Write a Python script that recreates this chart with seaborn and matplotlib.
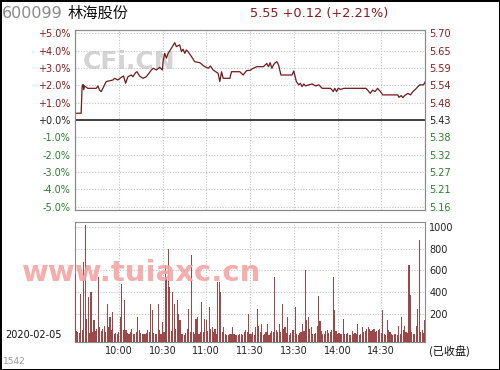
import numpy as np
import pandas as pd
import matplotlib
matplotlib.use("Agg")
import matplotlib.pyplot as plt
import seaborn as sns

# ---------------- data ----------------
stock_code = "600099"
stock_name = "林海股份"
prev_close = 5.43
last_price = 5.55
change = 0.12
change_pct = 2.21
trade_date = "2020-02-05"

# price line: minute index since 9:30 (lunch break removed) and % change
price_minutes = [0, 4.2, 4.9, 5.5, 6, 6.5, 8.8, 14.6, 15.7, 16.8, 18, 19.1, 21.4, 26, 27.1,
                 29.4, 31.7, 33.3, 34.7, 36.3, 38.6, 39.7, 41.6, 42.5, 44.3, 46.6, 48.9,
                 52.4, 53.6, 55.8, 58.1, 59.9, 60.4, 61.5, 62.7, 63.8, 65.4, 68.4, 69.5,
                 71.8, 73, 74.1, 75.3, 76.4, 77.5, 79.9, 82.1, 85.6, 89, 91.3, 92.9, 94.7,
                 98.1, 99.3, 100.5, 101.6, 106.2, 107.3, 113, 115.3, 117.6, 120,
                 122.3, 124.6, 129.2, 131.5, 132.7, 133.8, 135, 136.1, 137.3, 138.4, 139.6,
                 141.2, 148.8, 150, 151.8, 153.4, 154.6, 155.7, 156.9, 158, 160.3, 162.6,
                 164.9, 167.2, 169.5, 175.3, 177.1, 178.1, 179.4, 180.4, 182.2, 184.5,
                 199.5, 201.1, 202.5, 204.1, 205.7, 207.5, 209.4, 211, 221.4, 222.1, 223.7,
                 224.8, 226, 228.3, 230.1, 231.7, 233.4, 235.2, 236.4, 238.7, 239.8, 240]
price_pct = [0.39, 0.39, 1.93, 2.05, 1.75, 1.97, 1.83, 1.83, 1.97, 1.73, 1.64, 1.83, 2.22, 2.31, 2.41,
             2.31, 2.47, 2.54, 2.12, 2.50, 2.60, 2.50, 2.74, 2.79, 2.54, 2.41, 2.50,
             2.89, 2.99, 2.89, 3.04, 2.89, 3.37, 3.85, 3.57, 3.85, 4.05, 4.47, 4.24,
             4.34, 3.95, 4.09, 3.85, 4.05, 3.95, 3.66, 3.37, 3.31, 3.08, 2.99, 3.12, 2.89,
             2.70, 2.22, 2.79, 2.41, 2.41, 2.79, 2.79, 2.60, 2.85, 2.87,
             2.99, 3.08, 3.08, 3.27, 3.08, 3.31, 2.99, 3.18, 3.31, 3.37, 3.18,
             2.60, 2.60, 2.83, 2.22, 2.03, 2.12, 1.93, 2.08, 1.97, 2.03, 2.08,
             1.97, 2.03, 1.83, 1.83, 1.64, 1.83, 1.64, 1.83, 1.77, 1.83,
             1.83, 1.68, 1.54, 1.73, 1.64, 1.83, 1.64, 1.45, 1.45, 1.31, 1.41,
             1.29, 1.41, 1.54, 1.45, 1.64, 1.77, 1.93, 2.03, 2.03, 2.12, 2.21]

# volume per minute (0..240)
volume = [570, 40, 30, 20, 384, 46, 676, 1014, 150, 353, 20, 399, 30, 138, 40, 60, 537, 73, 37, 61,
          90, 30, 291, 73, 165, 46, 215, 15, 20, 10, 30, 168, 477, 46, 322, 46, 20, 10, 30, 61,
          10, 15, 30, 168, 46, 20, 10, 15, 15, 20, 46, 30, 291, 230, 20, 10, 15, 291, 46, 10,
          125, 30, 645, 537, 800, 445, 40, 399, 291, 60, 322, 199, 138, 15, 10, 5, 20, 61, 245, 30,
          738, 30, 10, 153, 168, 15, 30, 307, 30, 153, 138, 40, 261, 61, 76, 30, 61, 10, 491, 491,
          399, 30, 73, 15, 5, 5, 10, 10, 73, 15, 5, 5, 5, 10, 10, 5, 30, 46, 30, 199,
          10, 10, 30, 5, 76, 245, 90, 30, 107, 5, 10, 30, 107, 5, 20, 37, 30, 537, 46, 30,
          107, 30, 291, 61, 76, 20, 168, 5, 20, 46, 46, 261, 15, 5, 20, 30, 107, 37, 599, 138,
          168, 61, 73, 10, 10, 20, 90, 363, 132, 37, 10, 15, 37, 46, 20, 30, 46, 537, 230, 37,
          10, 20, 10, 10, 153, 15, 10, 20, 5, 5, 37, 10, 20, 10, 107, 5, 10, 73, 30, 37,
          61, 76, 61, 37, 46, 61, 30, 37, 46, 61, 20, 230, 10, 5, 138, 46, 30, 15, 5, 10,
          15, 5, 90, 10, 168, 46, 90, 30, 20, 645, 368, 30, 15, 10, 90, 245, 876, 30, 46, 20,
          138]

pct_ticks = [5, 4, 3, 2, 1, 0, -1, -2, -3, -4, -5]
time_ticks = [30, 60, 90, 120, 150, 180, 210]
time_labels = ["10:00", "10:30", "11:00", "11:30", "13:30", "14:00", "14:30"]
vol_ticks = [200, 400, 600, 800, 1000]

# ---------------- style ----------------
sns.set_style("white")
plt.rcParams["font.family"] = ["DejaVu Sans", "Noto Sans CJK SC"]

RED = "#8b1a1a"
LINE = "#6e1c1c"
GREEN = "#2e7d2e"
GRID = "#c4c4c4"

fig = plt.figure(figsize=(5.0, 3.7), dpi=100)
fig.patch.set_facecolor("white")

ax = fig.add_axes([0.15, 1 - 210 / 370, 0.70, 180 / 370])
axv = fig.add_axes([0.15, 1 - 342 / 370, 0.70, 120 / 370])

price_df = pd.DataFrame({"minute": price_minutes, "pct": price_pct})
vol_df = pd.DataFrame({"minute": np.arange(len(volume)), "volume": volume})

# watermark
ax.text(0.022, 0.82, "CFi.CN", transform=ax.transAxes, fontsize=18, fontweight="bold",
        color="#d4d4d4", ha="left", va="center", zorder=0)

sns.lineplot(data=price_df, x="minute", y="pct", ax=ax, color=LINE, linewidth=0.9,
             estimator=None, sort=False, zorder=3)
ax.axhline(0, color="#333333", linewidth=1.3, zorder=2)

ax.set_xlim(0, 240)
ax.set_ylim(-5.2, 5.2)
ax.set_yticks(pct_ticks)
ax.set_yticklabels([f"{t:+.1f}%" if t != 0 else "+0.0%" for t in pct_ticks], fontsize=7)
for lbl, t in zip(ax.get_yticklabels(), pct_ticks):
    lbl.set_color(RED if t > 0 else ("#222222" if t == 0 else GREEN))
ax.set_xticks(time_ticks)
ax.set_xticklabels([])
ax.grid(True, color=GRID, linestyle=(0, (1, 1.5)), linewidth=0.8)
ax.tick_params(length=0, pad=3)
ax.set_xlabel("")
ax.set_ylabel("")

axr = ax.twinx()
axr.set_ylim(ax.get_ylim())
axr.set_yticks(pct_ticks)
axr.set_yticklabels([f"{prev_close * (1 + t / 100):.2f}" for t in pct_ticks], fontsize=7)
for lbl, t in zip(axr.get_yticklabels(), pct_ticks):
    lbl.set_color(RED if t > 0 else ("#222222" if t == 0 else GREEN))
axr.tick_params(length=0, pad=3)
for a in (ax, axr):
    for s in a.spines.values():
        s.set_color("#8a8a8a")
        s.set_linewidth(0.8)

# volume
vol_bottom = -62
axv.bar(vol_df["minute"], vol_df["volume"] - vol_bottom, bottom=vol_bottom, width=0.75,
        color="#9c4848", linewidth=0, zorder=3)
axv.set_xlim(0, 240)
axv.set_ylim(vol_bottom, 1046)
axv.set_yticks(vol_ticks)
axv.yaxis.tick_right()
axv.set_yticklabels([str(v) for v in vol_ticks], fontsize=7, color="#222222")
axv.set_xticks(time_ticks)
axv.set_xticklabels(time_labels, fontsize=7, color="#222222")
axv.grid(True, color=GRID, linestyle=(0, (1, 1.5)), linewidth=0.8)
axv.tick_params(length=0, pad=3)
axv.set_xlabel("")
axv.set_ylabel("")
for s in axv.spines.values():
    s.set_color("#8a8a8a")
    s.set_linewidth(0.8)

# watermark over volume
fig.text(22 / 500, 1 - 273 / 370, "www.tuiaxc.cn", fontsize=21, fontweight="bold",
         color="#f4a4a4", alpha=0.9, ha="left", va="center", zorder=10)

# header texts
fig.text(2 / 500, 1 - 13 / 370, stock_code, fontsize=11.5, color="#8a8a8a", ha="left", va="center")
fig.text(68 / 500, 1 - 13 / 370, stock_name, fontsize=11, color="#111111", ha="left", va="center",
         family=["Noto Sans CJK SC", "DejaVu Sans"])
fig.text(250 / 500, 1 - 13 / 370, f"{last_price:.2f} {change:+.2f} ({change_pct:+.2f}%)",
         fontsize=9.3, color=RED, ha="left", va="center")
fig.text(5 / 500, 1 - 335 / 370, trade_date, fontsize=7, color="#111111", ha="left", va="center")
fig.text(3 / 500, 1 - 362 / 370, "1542", fontsize=6.5, color="#999999", ha="left", va="center")
fig.text(429 / 500, 1 - 351 / 370, "(已收盘)", fontsize=8, color="#111111", ha="left", va="center",
         family=["Noto Sans CJK SC", "DejaVu Sans"])

fig.patch.set_edgecolor("black")
fig.patch.set_linewidth(2)

fig.savefig("out.png", dpi=100, facecolor=fig.get_facecolor(), edgecolor=fig.get_edgecolor())
